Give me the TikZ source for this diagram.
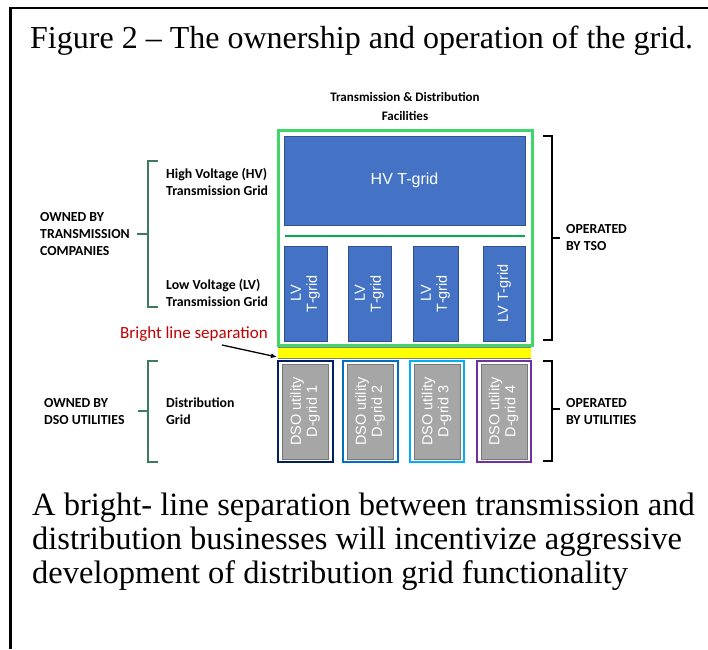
\documentclass[tikz,border=0pt]{standalone}
\usepackage{fontspec}
\setmainfont{Liberation Serif}
\newfontfamily\calibri{Carlito}
\newfontfamily\arialfont{Liberation Sans}
\usetikzlibrary{arrows.meta}

\definecolor{framegreen}{RGB}{64,214,104}
\definecolor{divgreen}{RGB}{0,176,80}
\definecolor{tblue}{RGB}{68,114,196}
\definecolor{tblueedge}{RGB}{47,82,143}
\definecolor{dgray}{RGB}{166,166,166}
\definecolor{dgrayedge}{RGB}{120,120,120}
\definecolor{sepgray}{RGB}{127,127,127}
\definecolor{brightyellow}{RGB}{255,255,0}
\definecolor{bracegreen}{RGB}{62,122,92}
\definecolor{sepred}{RGB}{192,0,0}
\definecolor{dsoA}{RGB}{0,32,96}
\definecolor{dsoB}{RGB}{0,112,192}
\definecolor{dsoC}{RGB}{0,176,240}
\definecolor{dsoD}{RGB}{112,48,160}

\tikzset{
  tbox/.style={draw=tblueedge, fill=tblue, line width=0.8pt, inner sep=0pt, outer sep=0pt,
    text=white, font=\arialfont\fontsize{14.5}{17}\selectfont, align=center},
  dframe/.style={draw=#1, line width=2.6pt, inner sep=0pt, outer sep=0pt, minimum width=54pt, minimum height=101pt},
  dbox/.style={draw=dgrayedge, fill=dgray, line width=0.8pt, inner sep=0pt, outer sep=0pt,
    minimum width=46pt, minimum height=95pt, text=white,
    font=\arialfont\fontsize{14.5}{17}\selectfont, align=center},
  lbl/.style={font=\calibri\bfseries\fontsize{13.8}{17}\selectfont, align=left, inner sep=0pt},
  bracel/.style={draw=bracegreen, line width=1.3pt},
  bracer/.style={draw=black, line width=1.2pt},
}

\begin{document}
\begin{tikzpicture}[x=1pt,y=-1pt]
\useasboundingbox (0,0) rectangle (708,649);

% page frame (left and top rules)
\draw[line width=2.6pt] (10.5,649) -- (10.5,8) -- (708,8);

% heading
\node[anchor=base west, inner sep=0pt, font=\fontsize{32}{38}\selectfont] (title) at (30,48)
  {Figure 2 -- The ownership and operation of the grid.};

\node[font=\calibri\bfseries\fontsize{13}{19}\selectfont, align=center, inner sep=0pt] (facil) at (405,106)
  {Transmission \& Distribution\\Facilities};

% transmission facilities
\node[draw=framegreen, line width=3pt, minimum width=254pt, minimum height=215pt, inner sep=0pt] (tframe) at (405,237.5) {};
\node[tbox, minimum width=241pt, minimum height=89pt, font=\arialfont\fontsize{16}{19}\selectfont] (hv) at (404.5,180.5) {HV T-grid};
\coordinate (divL) at (285,236);
\coordinate (divR) at (525,236);
\draw[divgreen, line width=2.2pt] (divL) -- (divR);

\node[tbox, minimum width=43pt, minimum height=95pt] (lv1) at (305.5,293.5) {\rotatebox{90}{\begin{tabular}{@{}c@{}}LV\\[-1pt]T-grid\end{tabular}}};
\node[tbox, minimum width=43pt, minimum height=95pt] (lv2) at (369.5,293.5) {\rotatebox{90}{\begin{tabular}{@{}c@{}}LV\\[-1pt]T-grid\end{tabular}}};
\node[tbox, minimum width=45pt, minimum height=95pt] (lv3) at (435.5,293.5) {\rotatebox{90}{\begin{tabular}{@{}c@{}}LV\\[-1pt]T-grid\end{tabular}}};
\node[tbox, minimum width=42pt, minimum height=95pt] (lv4) at (504,293.5) {\rotatebox{90}{LV T-grid}};

% bright line band
\fill[brightyellow] (278,348) rectangle (531,357.5);
\coordinate (bandTL) at (278,347.5);
\coordinate (bandTR) at (531,347.5);
\coordinate (bandBL) at (278,358.5);
\coordinate (bandBR) at (531,358.5);
\draw[sepgray, line width=1.6pt] (bandTL) -- (bandTR);
\draw[sepgray, line width=1.6pt] (bandBL) -- (bandBR);

% distribution utilities
\node[dframe=dsoA, minimum width=55pt] (f1) at (305.5,411.5) {};
\node[dframe=dsoB, minimum width=55pt] (f2) at (370.5,411.5) {};
\node[dframe=dsoC] (f3) at (437,411.5) {};
\node[dframe=dsoD] (f4) at (504,411.5) {};
\node[dbox] (d1) at (f1) {\rotatebox{90}{\begin{tabular}{@{}c@{}}DSO utility\\[-1pt]D-grid 1\end{tabular}}};
\node[dbox] (d2) at (f2) {\rotatebox{90}{\begin{tabular}{@{}c@{}}DSO utility\\[-1pt]D-grid 2\end{tabular}}};
\node[dbox] (d3) at (f3) {\rotatebox{90}{\begin{tabular}{@{}c@{}}DSO utility\\[-1pt]D-grid 3\end{tabular}}};
\node[dbox] (d4) at (f4) {\rotatebox{90}{\begin{tabular}{@{}c@{}}DSO utility\\[-1pt]D-grid 4\end{tabular}}};

% separation callout
\node[font=\calibri\fontsize{17}{20}\selectfont, text=sepred, inner sep=0pt, anchor=base west] (bright) at (120,338) {Bright line separation};
\coordinate (arrowtail) at (222,345);
\coordinate (arrowtip) at (277,357);
\draw[line width=1.3pt, -{Latex[length=6pt,width=5pt]}] (arrowtail) -- (arrowtip);

% ownership braces
\draw[bracel] (158,161) -- (148,161) -- (148,307) -- (158,307);
\coordinate (ownTtick) at (148,234);
\coordinate (ownTend) at (137,234);
\draw[bracel] (ownTtick) -- (ownTend);
\draw[bracel] (158,361) -- (148,361) -- (148,462) -- (158,462);
\coordinate (ownDtick) at (148,411);
\coordinate (ownDend) at (138,411);
\draw[bracel] (ownDtick) -- (ownDend);

\node[lbl, anchor=west] (ownT) at (40,234) {OWNED BY\\TRANSMISSION\\COMPANIES};
\node[lbl, anchor=west] (ownD) at (44,411.5) {OWNED BY\\DSO UTILITIES};
\node[lbl, anchor=west] (hvlbl) at (166,181.5) {High Voltage (HV)\\Transmission Grid};
\node[lbl, anchor=west] (lvlbl) at (166,293) {Low Voltage (LV)\\Transmission Grid};
\node[lbl, anchor=west] (distlbl) at (166,411.5) {Distribution\\Grid};

% operation braces
\draw[bracer] (543,136) -- (552,136) -- (552,340) -- (543,340);
\coordinate (opTtick) at (552,238);
\coordinate (opTend) at (560,238);
\draw[bracer] (opTtick) -- (opTend);
\draw[bracer] (543,361) -- (552,361) -- (552,461) -- (543,461);
\coordinate (opDtick) at (552,409);
\coordinate (opDend) at (560,409);
\draw[bracer] (opDtick) -- (opDend);

\node[lbl, anchor=west] (opT) at (566,237.5) {OPERATED\\BY TSO};
\node[lbl, anchor=west] (opD) at (566,412) {OPERATED\\BY UTILITIES};

% closing statement
\node[anchor=base west, inner sep=0pt, align=left, font=\fontsize{32.5}{34}\selectfont] (summary) at (32,583)
  {A bright- line separation between transmission and\\
   distribution businesses will incentivize aggressive\\
   development of distribution grid functionality};
\end{tikzpicture}
\end{document}
